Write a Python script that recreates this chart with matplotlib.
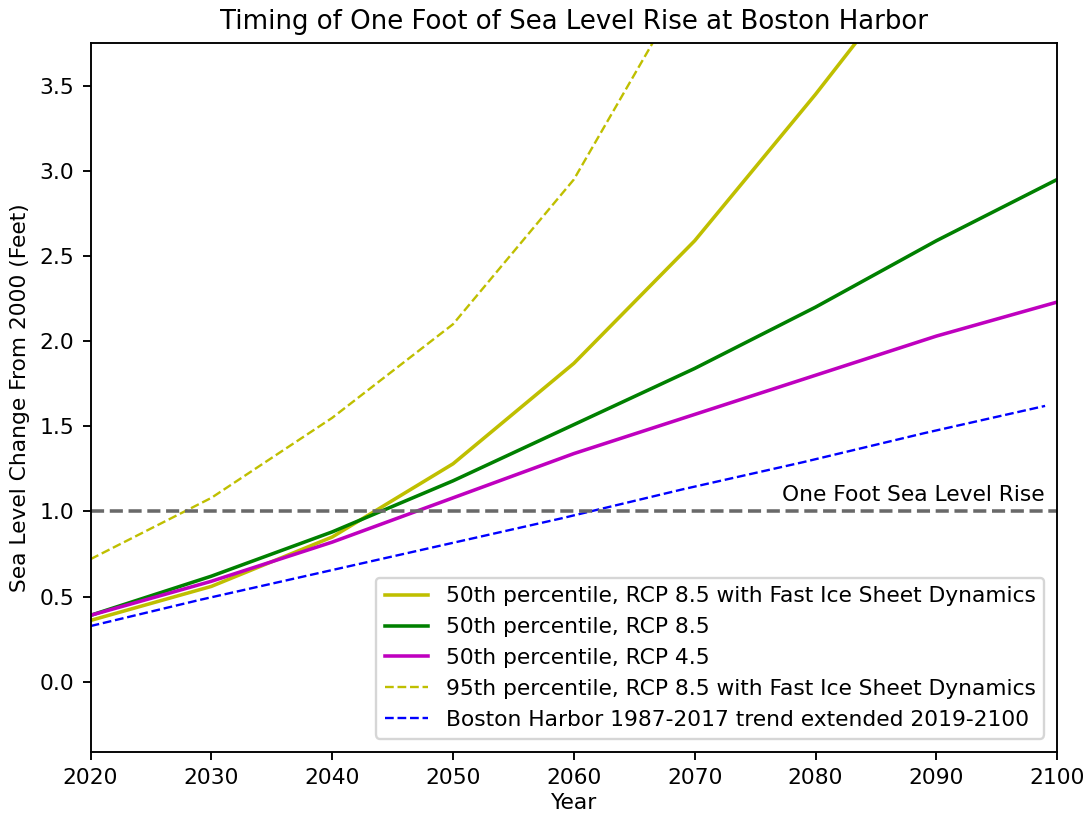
import matplotlib
matplotlib.use("Agg")
import matplotlib.pyplot as plt

# decades of the projections
years = [2020, 2030, 2040, 2050, 2060, 2070, 2080, 2090, 2100]
rcp85_fast_50 = [0.36, 0.56, 0.85, 1.28, 1.87, 2.59, 3.45, 4.36, 5.40]
rcp85_50 = [0.39, 0.62, 0.88, 1.18, 1.51, 1.84, 2.20, 2.59, 2.95]
rcp45_50 = [0.39, 0.59, 0.82, 1.08, 1.34, 1.57, 1.80, 2.03, 2.23]
rcp85_fast_95 = [0.72, 1.08, 1.55, 2.10, 2.95, 4.18, 5.60, 7.20, 9.00]

# Boston Harbor linear trend
trend_years = [2019, 2029, 2039, 2049, 2059, 2069, 2079, 2089, 2099]
trend_vals = [0.31, 0.48, 0.64, 0.80, 0.96, 1.13, 1.29, 1.46, 1.62]

plt.rcParams['font.size'] = 9.2

fig, ax = plt.subplots(figsize=(1091 / 170, 816 / 170), dpi=170)

ax.plot(years, rcp85_fast_50, color='y', lw=1.5,
        label='50th percentile, RCP 8.5 with Fast Ice Sheet Dynamics')
ax.plot(years, rcp85_50, color='g', lw=1.5, label='50th percentile, RCP 8.5')
ax.plot(years, rcp45_50, color='m', lw=1.5, label='50th percentile, RCP 4.5')
ax.plot(years, rcp85_fast_95, color='y', lw=1, ls='--',
        label='95th percentile, RCP 8.5 with Fast Ice Sheet Dynamics')
ax.plot(trend_years, trend_vals, color='b', lw=1, ls='--',
        label='Boston Harbor 1987-2017 trend extended 2019-2100')

ax.axhline(1.0, color='dimgray', lw=1.5, ls='--')
ax.text(2099, 1.04, 'One Foot Sea Level Rise', ha='right', va='bottom')

ax.set_xlim(2020, 2100)
ax.set_ylim(-0.41, 3.75)
ax.set_xlabel('Year', labelpad=2)
ax.set_ylabel('Sea Level Change From 2000 (Feet)')
ax.set_title('Timing of One Foot of Sea Level Rise at Boston Harbor', fontsize=11)
ax.legend(loc='lower right', borderaxespad=0.6)

fig.subplots_adjust(left=0.083, right=0.969, top=0.947, bottom=0.079)
fig.savefig('out.png', dpi=170)
